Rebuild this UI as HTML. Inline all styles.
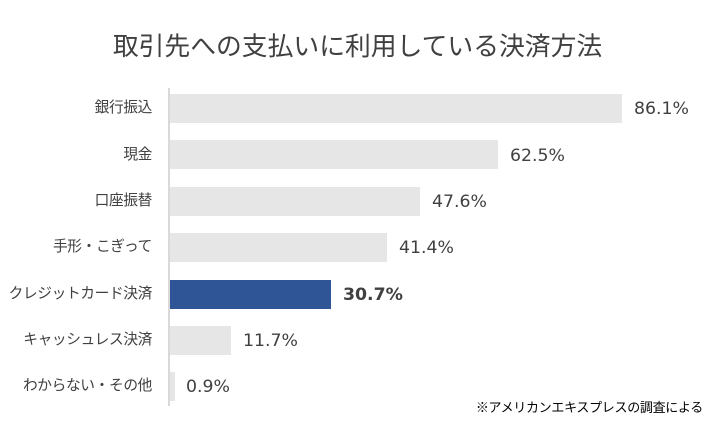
<!DOCTYPE html>
<html><head><meta charset="utf-8"><style>
body{margin:0;width:715px;height:421px;background:#fff;overflow:hidden;font-family:"Liberation Sans","Noto Sans CJK JP",sans-serif;}
.t{position:absolute;left:0;width:715px;text-align:center;top:26px;font-size:25.8px;color:#404040;}
.ax{position:absolute;left:168px;top:88px;width:2px;height:318px;background:#d9d9d9;}
.lab{position:absolute;right:563px;font-size:14.7px;letter-spacing:-0.35px;color:#404040;white-space:nowrap;line-height:20px;}
.bar{position:absolute;left:170px;height:29px;background:#e6e6e6;}
.val{position:absolute;font-family:"DejaVu Sans",sans-serif;font-size:17.3px;color:#404040;line-height:20px;}
.note{position:absolute;right:12px;top:397px;font-size:13px;letter-spacing:-0.3px;color:#000;}
</style></head><body>
<div class="t">取引先への支払いに利用している決済方法</div>
<div class="ax"></div>

<div class="lab" style="top:98px">銀行振込</div>
<div class="bar" style="top:94px;width:452px"></div>
<div class="val" style="top:99px;left:634px">86.1%</div>

<div class="lab" style="top:145px">現金</div>
<div class="bar" style="top:140px;width:328px"></div>
<div class="val" style="top:146px;left:510px">62.5%</div>

<div class="lab" style="top:191px">口座振替</div>
<div class="bar" style="top:187px;width:250px"></div>
<div class="val" style="top:192px;left:432px">47.6%</div>

<div class="lab" style="top:237px">手形・こぎって</div>
<div class="bar" style="top:233px;width:217px"></div>
<div class="val" style="top:238px;left:399px">41.4%</div>

<div class="lab" style="top:284px">クレジットカード決済</div>
<div class="bar" style="top:280px;width:161px;background:#2f5597"></div>
<div class="val" style="top:285px;left:343px;font-weight:bold">30.7%</div>

<div class="lab" style="top:330px">キャッシュレス決済</div>
<div class="bar" style="top:326px;width:61px"></div>
<div class="val" style="top:331px;left:243px">11.7%</div>

<div class="lab" style="top:376px">わからない・その他</div>
<div class="bar" style="top:372px;width:5px"></div>
<div class="val" style="top:377px;left:186px">0.9%</div>

<div class="note">※アメリカンエキスプレスの調査による</div>
</body></html>
